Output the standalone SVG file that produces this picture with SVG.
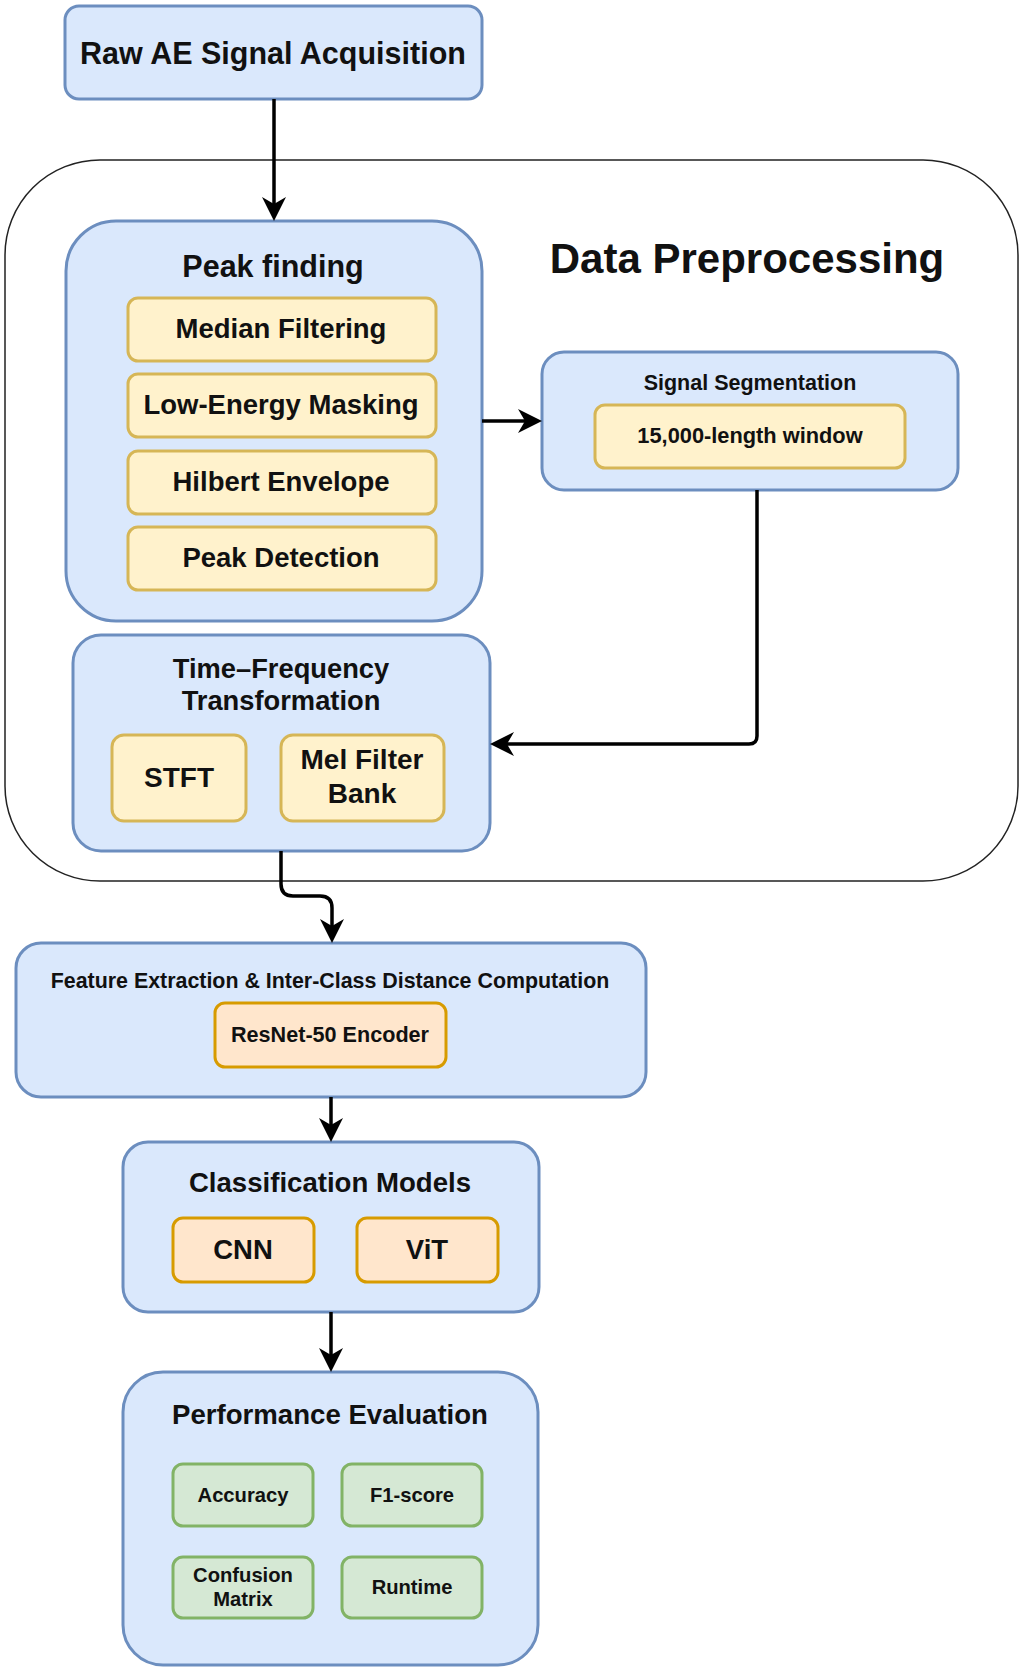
<svg xmlns="http://www.w3.org/2000/svg" width="1025" height="1673" viewBox="0 0 1025 1673">
<style>
.blue{fill:#dae8fc;stroke:#6c8ebf;stroke-width:3}
.yel{fill:#fff2cc;stroke:#d6b656;stroke-width:3}
.org{fill:#ffe6cc;stroke:#d79b00;stroke-width:3}
.grn{fill:#d5e8d4;stroke:#82b366;stroke-width:3}
text{font-family:"Liberation Sans",Arial,sans-serif;font-weight:bold;text-anchor:middle;fill:#111}
.conn{fill:none;stroke:#000;stroke-width:3.5}
</style>
<defs>
<marker id="arr" viewBox="0 0 24 24" refX="15" refY="12" markerWidth="24" markerHeight="24" markerUnits="userSpaceOnUse" orient="auto">
<path d="M0,0 L24,12 L0,24 L7,12 z" fill="#000"/>
</marker>
</defs>
<rect width="1025" height="1673" fill="#fff"/>
<g id="data-preprocessing">
<rect x="5" y="160" width="1013" height="721" rx="95" ry="95" fill="none" stroke="#222" stroke-width="1.5"/>
<text x="747" y="273" font-size="42">Data Preprocessing</text>
</g>
<g id="raw-ae">
<rect class="blue" x="65" y="6" width="417" height="93" rx="14"/>
<text x="273" y="64" font-size="30.5">Raw AE Signal Acquisition</text>
</g>
<g id="peak-finding">
<rect class="blue" x="66" y="221" width="416" height="400" rx="50"/>
<text x="273" y="277" font-size="30.5">Peak finding</text>
<rect class="yel" x="128" y="298" width="308" height="63" rx="10"/>
<text x="281" y="338" font-size="27.5">Median Filtering</text>
<rect class="yel" x="128" y="374" width="308" height="63" rx="10"/>
<text x="281" y="414" font-size="27.5">Low-Energy Masking</text>
<rect class="yel" x="128" y="451" width="308" height="63" rx="10"/>
<text x="281" y="491" font-size="27.5">Hilbert Envelope</text>
<rect class="yel" x="128" y="527" width="308" height="63" rx="10"/>
<text x="281" y="567" font-size="27.5">Peak Detection</text>
</g>
<g id="signal-segmentation">
<rect class="blue" x="542" y="352" width="416" height="138" rx="22"/>
<text x="750" y="390" font-size="21.5">Signal Segmentation</text>
<rect class="yel" x="595" y="405" width="310" height="63" rx="10"/>
<text x="750" y="443" font-size="21.8">15,000-length window</text>
</g>
<g id="time-frequency">
<rect class="blue" x="73" y="635" width="417" height="216" rx="28"/>
<text x="281" y="678" font-size="27.3">Time–Frequency</text>
<text x="281" y="710" font-size="27.3">Transformation</text>
<rect class="yel" x="112" y="735" width="134" height="86" rx="12"/>
<text x="179" y="787" font-size="28">STFT</text>
<rect class="yel" x="281" y="735" width="163" height="86" rx="12"/>
<text x="362" y="769" font-size="28">Mel Filter</text>
<text x="362" y="803" font-size="28">Bank</text>
</g>
<g id="feature-extraction">
<rect class="blue" x="16" y="943" width="630" height="154" rx="25"/>
<text x="330" y="988" font-size="21.4">Feature Extraction &amp; Inter-Class Distance Computation</text>
<rect class="org" x="215" y="1003" width="231" height="64" rx="10"/>
<text x="330" y="1042" font-size="21.6">ResNet-50 Encoder</text>
</g>
<g id="classification">
<rect class="blue" x="123" y="1142" width="416" height="170" rx="25"/>
<text x="330" y="1192" font-size="27.6">Classification Models</text>
<rect class="org" x="173" y="1218" width="141" height="64" rx="10"/>
<text x="243" y="1259" font-size="27.5">CNN</text>
<rect class="org" x="357" y="1218" width="141" height="64" rx="10"/>
<text x="427" y="1259" font-size="27.5">ViT</text>
</g>
<g id="performance">
<rect class="blue" x="123" y="1372" width="415" height="293" rx="40"/>
<text x="330" y="1424" font-size="27.6">Performance Evaluation</text>
<rect class="grn" x="173" y="1464" width="140" height="62" rx="10"/>
<text x="243" y="1502" font-size="20.2">Accuracy</text>
<rect class="grn" x="342" y="1464" width="140" height="62" rx="10"/>
<text x="412" y="1502" font-size="20.2">F1-score</text>
<rect class="grn" x="173" y="1557" width="140" height="61" rx="10"/>
<text x="243" y="1582" font-size="20.2">Confusion</text>
<text x="243" y="1606" font-size="20.2">Matrix</text>
<rect class="grn" x="342" y="1557" width="140" height="61" rx="10"/>
<text x="412" y="1594" font-size="20.2">Runtime</text>
</g>
<g id="connectors">
<path class="conn" d="M274,99 V212" marker-end="url(#arr)"/>
<path class="conn" d="M482,421 H533" marker-end="url(#arr)"/>
<path class="conn" d="M757,490 V736 Q757,744 749,744 H499" marker-end="url(#arr)"/>
<path class="conn" d="M281,851 V884 Q281,896 293,896 H320 Q332,896 332,908 V934" marker-end="url(#arr)"/>
<path class="conn" d="M331,1097 V1133" marker-end="url(#arr)"/>
<path class="conn" d="M331,1312 V1363" marker-end="url(#arr)"/>
</g>
</svg>
